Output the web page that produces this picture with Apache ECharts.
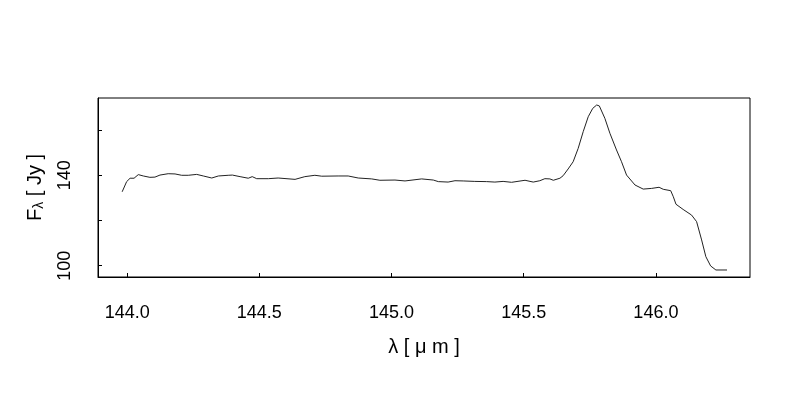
<!DOCTYPE html>
<html><head><meta charset="utf-8">
<script src="https://cdn.jsdelivr.net/npm/echarts@6/dist/echarts.min.js"></script>
<style>html,body{margin:0;padding:0;background:#fff}#c{width:800px;height:400px}</style>
</head><body><div id="c"></div>
<script>
const wavelength = [143.981,143.998,144.011,144.026,144.042,144.061,144.086,144.105,144.124,144.155,
144.181,144.206,144.231,144.263,144.288,144.320,144.345,144.382,144.398,144.427,
144.458,144.473,144.490,144.534,144.571,144.635,144.672,144.710,144.736,144.798,
144.836,144.874,144.925,144.956,145.013,145.051,145.114,145.158,145.177,145.214,
145.240,145.271,145.315,145.360,145.391,145.422,145.454,145.505,145.536,145.561,
145.580,145.599,145.612,145.637,145.649,145.668,145.687,145.706,145.725,145.744,
145.761,145.776,145.786,145.807,145.826,145.851,145.870,145.889,145.895,145.921,
145.952,145.984,146.012,146.028,146.056,146.066,146.076,146.103,146.135,146.154,
146.173,146.189,146.207,146.227,146.269];
const flux = [132.7,137.2,138.7,138.7,140.3,139.7,139.1,139.2,140.1,140.7,
140.6,140.0,140.0,140.4,139.7,138.8,139.7,140.0,140.1,139.4,
138.7,139.4,138.5,138.5,138.8,138.2,139.4,140.0,139.6,139.7,
139.7,138.8,138.4,137.8,137.9,137.5,138.4,137.9,137.2,137.0,
137.6,137.5,137.3,137.2,137.0,137.3,136.9,137.8,137.0,137.6,
138.5,138.4,137.8,138.7,139.8,142.8,146.0,151.9,159.3,165.9,
169.6,171.1,170.7,165.2,158.6,151.2,146.0,140.1,139.4,135.7,
133.9,134.2,134.7,133.8,133.2,130.5,127.2,124.9,122.4,119.5,
111.4,104.0,99.9,98.1,98.1];
const xTicks = [144.0,144.5,145.0,145.5,146.0];
const yTicks = [100,120,140,160];
const yLabels = [100,140];

const FONT = 'Liberation Sans, Arial, sans-serif';
const chart = echarts.init(document.getElementById('c'), null, {renderer:'canvas'});
chart.setOption({
  animation:false,
  backgroundColor:'#fff',
  grid:{left:98,right:50,top:98,bottom:123,show:true,borderColor:'#000',borderWidth:1,backgroundColor:'transparent'},
  xAxis:{
    type:'value', min:143.8896, max:146.356,
    axisLine:{show:true,onZero:false,lineStyle:{color:'#000',width:1}},
    splitLine:{show:false},
    axisTick:{show:true,inside:true,length:4,customValues:xTicks,lineStyle:{color:'#000'}},
    axisLabel:{customValues:xTicks,margin:27,fontSize:18,fontFamily:FONT,color:'#000',formatter:v=>v.toFixed(1)},
    name:'λ [ μ m ]', nameLocation:'middle', nameGap:60,
    nameTextStyle:{fontSize:20,fontFamily:FONT,color:'#000'}
  },
  yAxis:{
    type:'value', min:95.0, max:174.2,
    axisLine:{show:true,onZero:false,lineStyle:{color:'#000',width:1}},
    splitLine:{show:false},
    axisTick:{show:true,inside:true,length:4,customValues:yTicks,lineStyle:{color:'#000'}},
    axisLabel:{customValues:yLabels,rotate:90,margin:24,fontSize:18,fontFamily:FONT,color:'#000'},
    name:'{a|F}{s|λ}{a| [ Jy ]}', nameLocation:'middle', nameGap:52, nameRotate:90,
    nameTextStyle:{fontSize:20,fontFamily:FONT,color:'#000',
      rich:{a:{fontSize:20,fontFamily:FONT,color:'#000'},s:{fontSize:14,fontFamily:FONT,color:'#000',verticalAlign:'bottom',padding:[8,0,0,0]}}}
  },
  series:[{
    type:'line', showSymbol:false, smooth:false,
    data:wavelength.map((w,i)=>[w,flux[i]]),
    lineStyle:{color:'#222',width:1}
  }]
});
</script></body></html>
